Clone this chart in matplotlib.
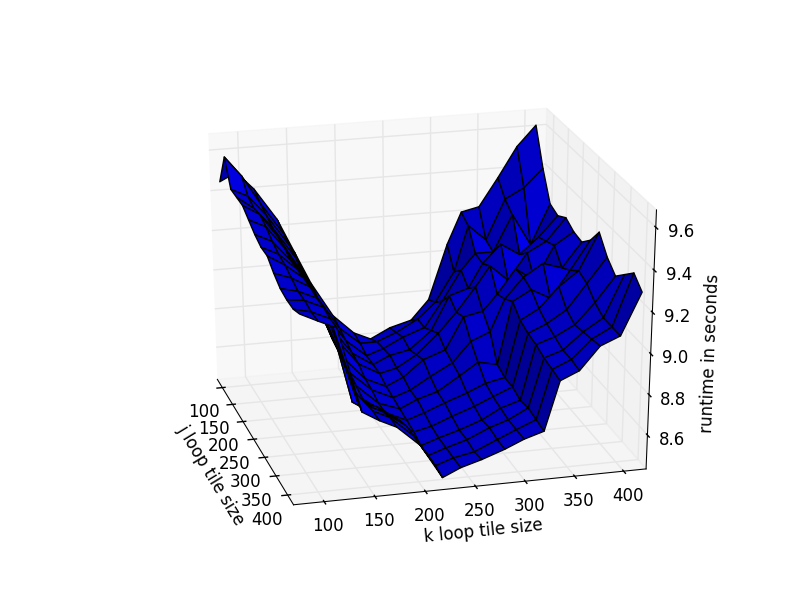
import numpy as np
import matplotlib
matplotlib.use("Agg")
import matplotlib.pyplot as plt
from mpl_toolkits.mplot3d import Axes3D

plt.style.use("classic")

# tile sizes
j_sizes = [75, 102, 129, 156, 183, 210, 237, 264, 291, 318, 345, 372, 399, 425]
k_sizes = [80, 97, 115, 138, 155, 172, 195, 217, 235, 256, 279, 298, 318, 333, 352, 372, 392, 412]

# runtime in seconds, rows follow j_sizes, columns follow k_sizes
runtime = [
    [9.44, 9.48, 9.39, 9.23, 9.06, 8.89, 8.71, 8.61, 8.57, 8.62, 8.65, 8.75, 9.03, 9.19, 9.21, 9.35, 9.50, 9.60],
    [9.60, 9.50, 9.36, 9.20, 9.03, 8.86, 8.69, 8.60, 8.60, 8.64, 8.70, 8.78, 8.93, 9.16, 9.08, 9.28, 9.33, 9.42],
    [9.48, 9.44, 9.34, 9.18, 9.01, 8.83, 8.67, 8.58, 8.61, 8.66, 8.70, 8.83, 8.98, 9.06, 9.06, 9.24, 9.08, 9.28],
    [9.48, 9.42, 9.32, 9.16, 8.98, 8.80, 8.65, 8.58, 8.62, 8.64, 8.73, 8.90, 8.93, 9.05, 9.14, 9.08, 9.16, 9.26],
    [9.48, 9.43, 9.31, 9.13, 8.95, 8.78, 8.64, 8.58, 8.60, 8.66, 8.76, 8.86, 8.98, 9.08, 9.00, 9.13, 9.18, 9.29],
    [9.45, 9.41, 9.30, 9.11, 8.91, 8.73, 8.61, 8.56, 8.60, 8.68, 8.72, 8.88, 8.90, 8.98, 9.10, 9.03, 9.20, 9.26],
    [9.42, 9.38, 9.28, 9.10, 8.88, 8.70, 8.60, 8.55, 8.58, 8.64, 8.70, 8.80, 8.84, 9.00, 9.10, 9.16, 9.13, 9.25],
    [9.40, 9.36, 9.28, 9.08, 8.86, 8.68, 8.58, 8.54, 8.58, 8.61, 8.68, 8.74, 8.72, 9.03, 9.08, 9.03, 9.16, 9.30],
    [9.40, 9.35, 9.28, 9.06, 8.83, 8.66, 8.58, 8.53, 8.56, 8.60, 8.64, 8.68, 8.70, 8.98, 9.03, 9.13, 9.20, 9.38],
    [9.36, 9.33, 9.28, 9.03, 8.70, 8.68, 8.60, 8.52, 8.54, 8.58, 8.62, 8.66, 8.70, 8.96, 9.00, 9.06, 9.18, 9.30],
    [9.33, 9.31, 9.27, 8.98, 8.73, 8.72, 8.64, 8.50, 8.53, 8.56, 8.60, 8.65, 8.68, 8.95, 8.98, 9.03, 9.13, 9.25],
    [9.32, 9.31, 9.27, 8.96, 8.78, 8.74, 8.66, 8.50, 8.53, 8.56, 8.61, 8.64, 8.69, 8.93, 8.96, 9.04, 9.10, 9.30],
    [9.32, 9.30, 9.26, 8.90, 8.80, 8.76, 8.66, 8.50, 8.53, 8.55, 8.60, 8.64, 8.68, 8.92, 8.96, 9.05, 9.10, 9.35],
    [9.34, 9.30, 9.26, 8.85, 8.80, 8.76, 8.66, 8.49, 8.53, 8.56, 8.60, 8.64, 8.67, 8.91, 8.95, 9.06, 9.10, 9.30],
]

tick_sizes = [100, 150, 200, 250, 300, 350, 400]
tick_runtime = [8.6, 8.8, 9.0, 9.2, 9.4, 9.6]


def old_shading(J, K, Z):
    """Blue per cell, the way old mplot3d shaded: light from (-1,-1,0.5), stretched to min/max"""
    dzdj = (Z[1:, :-1] - Z[:-1, :-1]) / (J[1:, :-1] - J[:-1, :-1])
    dzdk = (Z[:-1, 1:] - Z[:-1, :-1]) / (K[:-1, 1:] - K[:-1, :-1])
    length = np.sqrt(dzdj ** 2 + dzdk ** 2 + 1)
    shade = -(dzdj + dzdk + 0.5) / length
    shade = (shade - shade.min()) / (shade.max() - shade.min())
    colors = np.zeros(shade.shape + (4,))
    colors[..., 2] = 0.55 + 0.45 * shade
    colors[..., 3] = 1
    return colors


fig = plt.figure(figsize=(8.12, 6.12), dpi=100, facecolor="white")
ax = fig.add_subplot(111, projection="3d")
# keep the whole subplot box, the 3d cube gets stretched to the figure
ax.apply_aspect = lambda position=None: ax._set_position(ax.get_position(original=True), "active")
ax.set_box_aspect((1, 1, 1), zoom=0.955)

K, J = np.meshgrid(k_sizes, j_sizes)
Z = np.array(runtime)
surf = ax.plot_surface(J, K, Z, rstride=1, cstride=1, facecolors=old_shading(J, K, Z),
                       shade=False, linewidth=1)
surf.set_edgecolor("k")

ax.set_xlim(75, 425)
ax.set_ylim(70, 423)
ax.set_zlim(8.43, 9.68)
ax.set_xticks(tick_sizes)
ax.set_yticks(tick_sizes)
ax.set_zticks(tick_runtime)
ax.tick_params(axis="y", pad=0.5)
ax.tick_params(axis="z", pad=3)
for tick in ax.zaxis.get_major_ticks():
    tick.label1.set_va("center")
ax.set_xlabel("j loop tile size", labelpad=6)
ax.set_ylabel("k loop tile size", labelpad=3)
ax.set_zlabel("runtime in seconds")
ax.view_init(elev=25, azim=-15)

fig.savefig("out.png", dpi=100, facecolor="white")
